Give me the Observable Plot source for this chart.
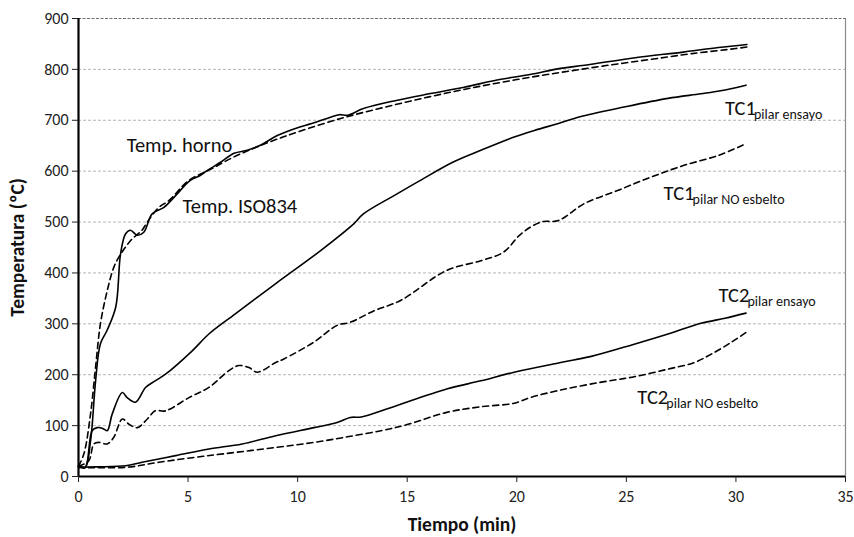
<!DOCTYPE html>
<html>
<head>
<meta charset="utf-8">
<script src="https://cdn.jsdelivr.net/npm/d3@7"></script>
<script src="https://cdn.jsdelivr.net/npm/@observablehq/plot@0.6"></script>
<style>
  html, body { margin: 0; padding: 0; background: #fff; }
  #chart { width: 854px; height: 537px; }
  svg { font-family: Carlito, Lato, "Open Sans", sans-serif; }
</style>
</head>
<body>
<div id="chart"></div>
<script>
// Temp. horno (solid)
const hornoT = [0, 0.3, 0.55, 0.78, 1.0, 1.3, 1.7, 1.92, 2.15, 2.37, 2.68, 2.98, 3.36, 3.9, 4.43, 5.1, 5.57, 5.9, 6.5, 7.1, 7.7, 8.3, 9.07, 10.1, 10.6, 11.5, 11.9, 12.3, 13.0, 14.5, 16.0, 17.6, 19.1, 20.6, 22.0, 23.1, 25.4, 27.6, 29.2, 30.5];
const hornoY = [21, 17, 70, 188, 261, 287, 333, 438, 477, 484, 474, 480, 516, 529, 552, 582, 592, 602, 618, 635, 641, 651, 670, 687, 693, 706, 711, 710, 723, 739, 752, 765, 779, 790, 802, 808, 823, 834, 843, 849];
// Temp. ISO834 (dashed)
const isoT = [0, 0.25, 0.55, 0.78, 1.0, 1.31, 1.61, 1.84, 2.15, 2.45, 2.9, 3.14, 3.67, 4.12, 5.04, 6, 7, 8, 9, 10, 12, 14, 16, 18, 20, 22, 24, 26, 28, 30, 30.5];
const isoY = [20, 45, 123, 215, 300, 365, 411, 431, 451, 467, 484, 500, 529, 542, 582, 603, 626, 645, 662, 677, 704, 726, 746, 764, 780, 794, 807, 819, 831, 841, 844];
// TC1 pilar ensayo (solid)
const tc1eT = [0, 0.3, 0.62, 0.85, 1.08, 1.31, 1.54, 2.0, 2.22, 2.6, 3.06, 3.5, 3.97, 5.19, 5.95, 7.17, 9.0, 11.05, 12.57, 13.0, 14.4, 15.6, 17.1, 18.36, 19.88, 20.8, 22.0, 22.8, 24.9, 26.9, 28.4, 29.3, 30.46];
const tc1eY = [21, 18, 90, 96, 95, 90, 123, 165, 155, 146, 175, 188, 201, 247, 280, 320, 379, 444, 497, 516, 552, 582, 618, 641, 667, 680, 695, 706, 726, 743, 752, 758, 769];
// TC1 pilar NO esbelto (dashed)
const tc1nT = [0, 0.47, 0.7, 0.93, 1.31, 1.61, 2.0, 2.3, 2.68, 3.14, 3.5, 3.97, 5.04, 5.95, 6.86, 7.32, 7.78, 8.16, 9.0, 9.37, 10.74, 11.8, 12.4, 13.5, 14.7, 16.8, 18.36, 19.4, 20.2, 21.1, 21.9, 23.07, 24.6, 26.1, 27.6, 29.2, 30.46];
const tc1nY = [20, 31, 64, 67, 64, 77, 113, 103, 96, 113, 129, 129, 155, 175, 208, 218, 214, 205, 224, 231, 264, 297, 303, 326, 346, 405, 424, 441, 477, 500, 503, 536, 562, 588, 611, 631, 654];
// TC2 pilar ensayo (solid)
const tc2eT = [0, 0.78, 2.15, 2.9, 4.43, 5.95, 7.47, 9.0, 10.74, 11.8, 12.4, 12.9, 14.1, 14.7, 16.8, 18.36, 19.88, 22.0, 23.4, 25.36, 26.9, 28.4, 29.5, 30.46];
const tc2eY = [18, 19, 21, 28, 41, 54, 64, 80, 96, 106, 116, 117, 133, 142, 172, 188, 205, 224, 236, 260, 280, 301, 311, 321];
// TC2 pilar NO esbelto (dashed)
const tc2nT = [0, 2.15, 3.67, 5.19, 6.7, 9.0, 10.74, 12.27, 13.8, 15.0, 16.8, 18.36, 19.88, 20.6, 22.0, 23.8, 25.36, 26.9, 28.1, 28.9, 29.8, 30.46];
const tc2nY = [18, 18, 28, 37, 45, 57, 67, 78, 90, 102, 126, 137, 144, 155, 170, 185, 196, 211, 224, 241, 264, 283];

// ticks and labels
const xTicks = [0, 5, 10, 15, 20, 25, 30, 35];
const yTicks = [0, 100, 200, 300, 400, 500, 600, 700, 800, 900];
const gridY = [100, 200, 300, 400, 500, 600, 700, 800];
const plainLabels = [
  {t: 2.2, v: 651, text: "Temp. horno"},
  {t: 4.75, v: 530, text: "Temp. ISO834"}
];
const tcLabels = [
  {t: 29.5, v: 723, main: "TC1", sub: "pilar ensayo"},
  {t: 26.7, v: 556, main: "TC1", sub: "pilar NO esbelto"},
  {t: 29.2, v: 355, main: "TC2", sub: "pilar ensayo"},
  {t: 25.5, v: 155, main: "TC2", sub: "pilar NO esbelto"}
];

const toRows = (ts, ys) => ts.map((t, i) => ({t, v: ys[i]}));
const solid = [toRows(hornoT, hornoY), toRows(tc1eT, tc1eY), toRows(tc2eT, tc2eY)];
const dashed = [toRows(isoT, isoY), toRows(tc1nT, tc1nY), toRows(tc2nT, tc2nY)];

const marks = [
  Plot.ruleY(gridY, {stroke: "#b5b5b5", strokeWidth: 1, strokeDasharray: "3,2"}),
  Plot.ruleY([900], {stroke: "#707070", strokeWidth: 1, strokeDasharray: "3,1.5"}),
  Plot.ruleX([35], {stroke: "#8a8a8a", strokeWidth: 1.2}),
];
for (const d of dashed) marks.push(Plot.line(d, {x: "t", y: "v", stroke: "#000", strokeWidth: 1.6, strokeDasharray: "6,4", curve: "catmull-rom"}));
for (const d of solid) marks.push(Plot.line(d, {x: "t", y: "v", stroke: "#000", strokeWidth: 1.6, curve: "catmull-rom"}));
marks.push(
  Plot.ruleX([0], {stroke: "#000", strokeWidth: 2.2}),
  Plot.ruleY([0], {stroke: "#000", strokeWidth: 2.2}),
  Plot.axisY({ticks: yTicks, tickSize: 6, tickPadding: 4, label: null, fontSize: 16, color: "#222", tickFormat: d => d}),
  Plot.axisX({ticks: xTicks, tickSize: 6, tickPadding: 8, label: null, fontSize: 16, color: "#222", tickFormat: d => d}),
  Plot.text(plainLabels, {x: "t", y: "v", text: "text", textAnchor: "start", fontSize: 20.5, fill: "#111"}),
  Plot.text(tcLabels, {x: "t", y: "v", text: "main", textAnchor: "start", fontSize: 20.5, fill: "#111"}),
  Plot.text(tcLabels, {x: "t", y: "v", text: "sub", textAnchor: "start", fontSize: 14, fill: "#111", dx: 29, dy: 6}),
  Plot.text(["Temperatura (ºC)"], {frameAnchor: "left", textAnchor: "middle", lineAnchor: "middle", dx: -61, rotate: -90, fontSize: 19.5, fontWeight: "bold", fill: "#111"}),
  Plot.text(["Tiempo (min)"], {frameAnchor: "bottom", textAnchor: "middle", lineAnchor: "middle", dy: 48, fontSize: 19.5, fontWeight: "bold", fill: "#111"})
);

const chart = Plot.plot({
  width: 854,
  height: 537,
  marginLeft: 78,
  marginRight: 9,
  marginTop: 18,
  marginBottom: 61,
  x: {domain: [0, 35]},
  y: {domain: [0, 900]},
  style: {fontFamily: "Carlito, Lato, 'Open Sans', sans-serif", background: "#fff", color: "#222"},
  marks
});
document.getElementById("chart").appendChild(chart);
</script>
</body>
</html>
